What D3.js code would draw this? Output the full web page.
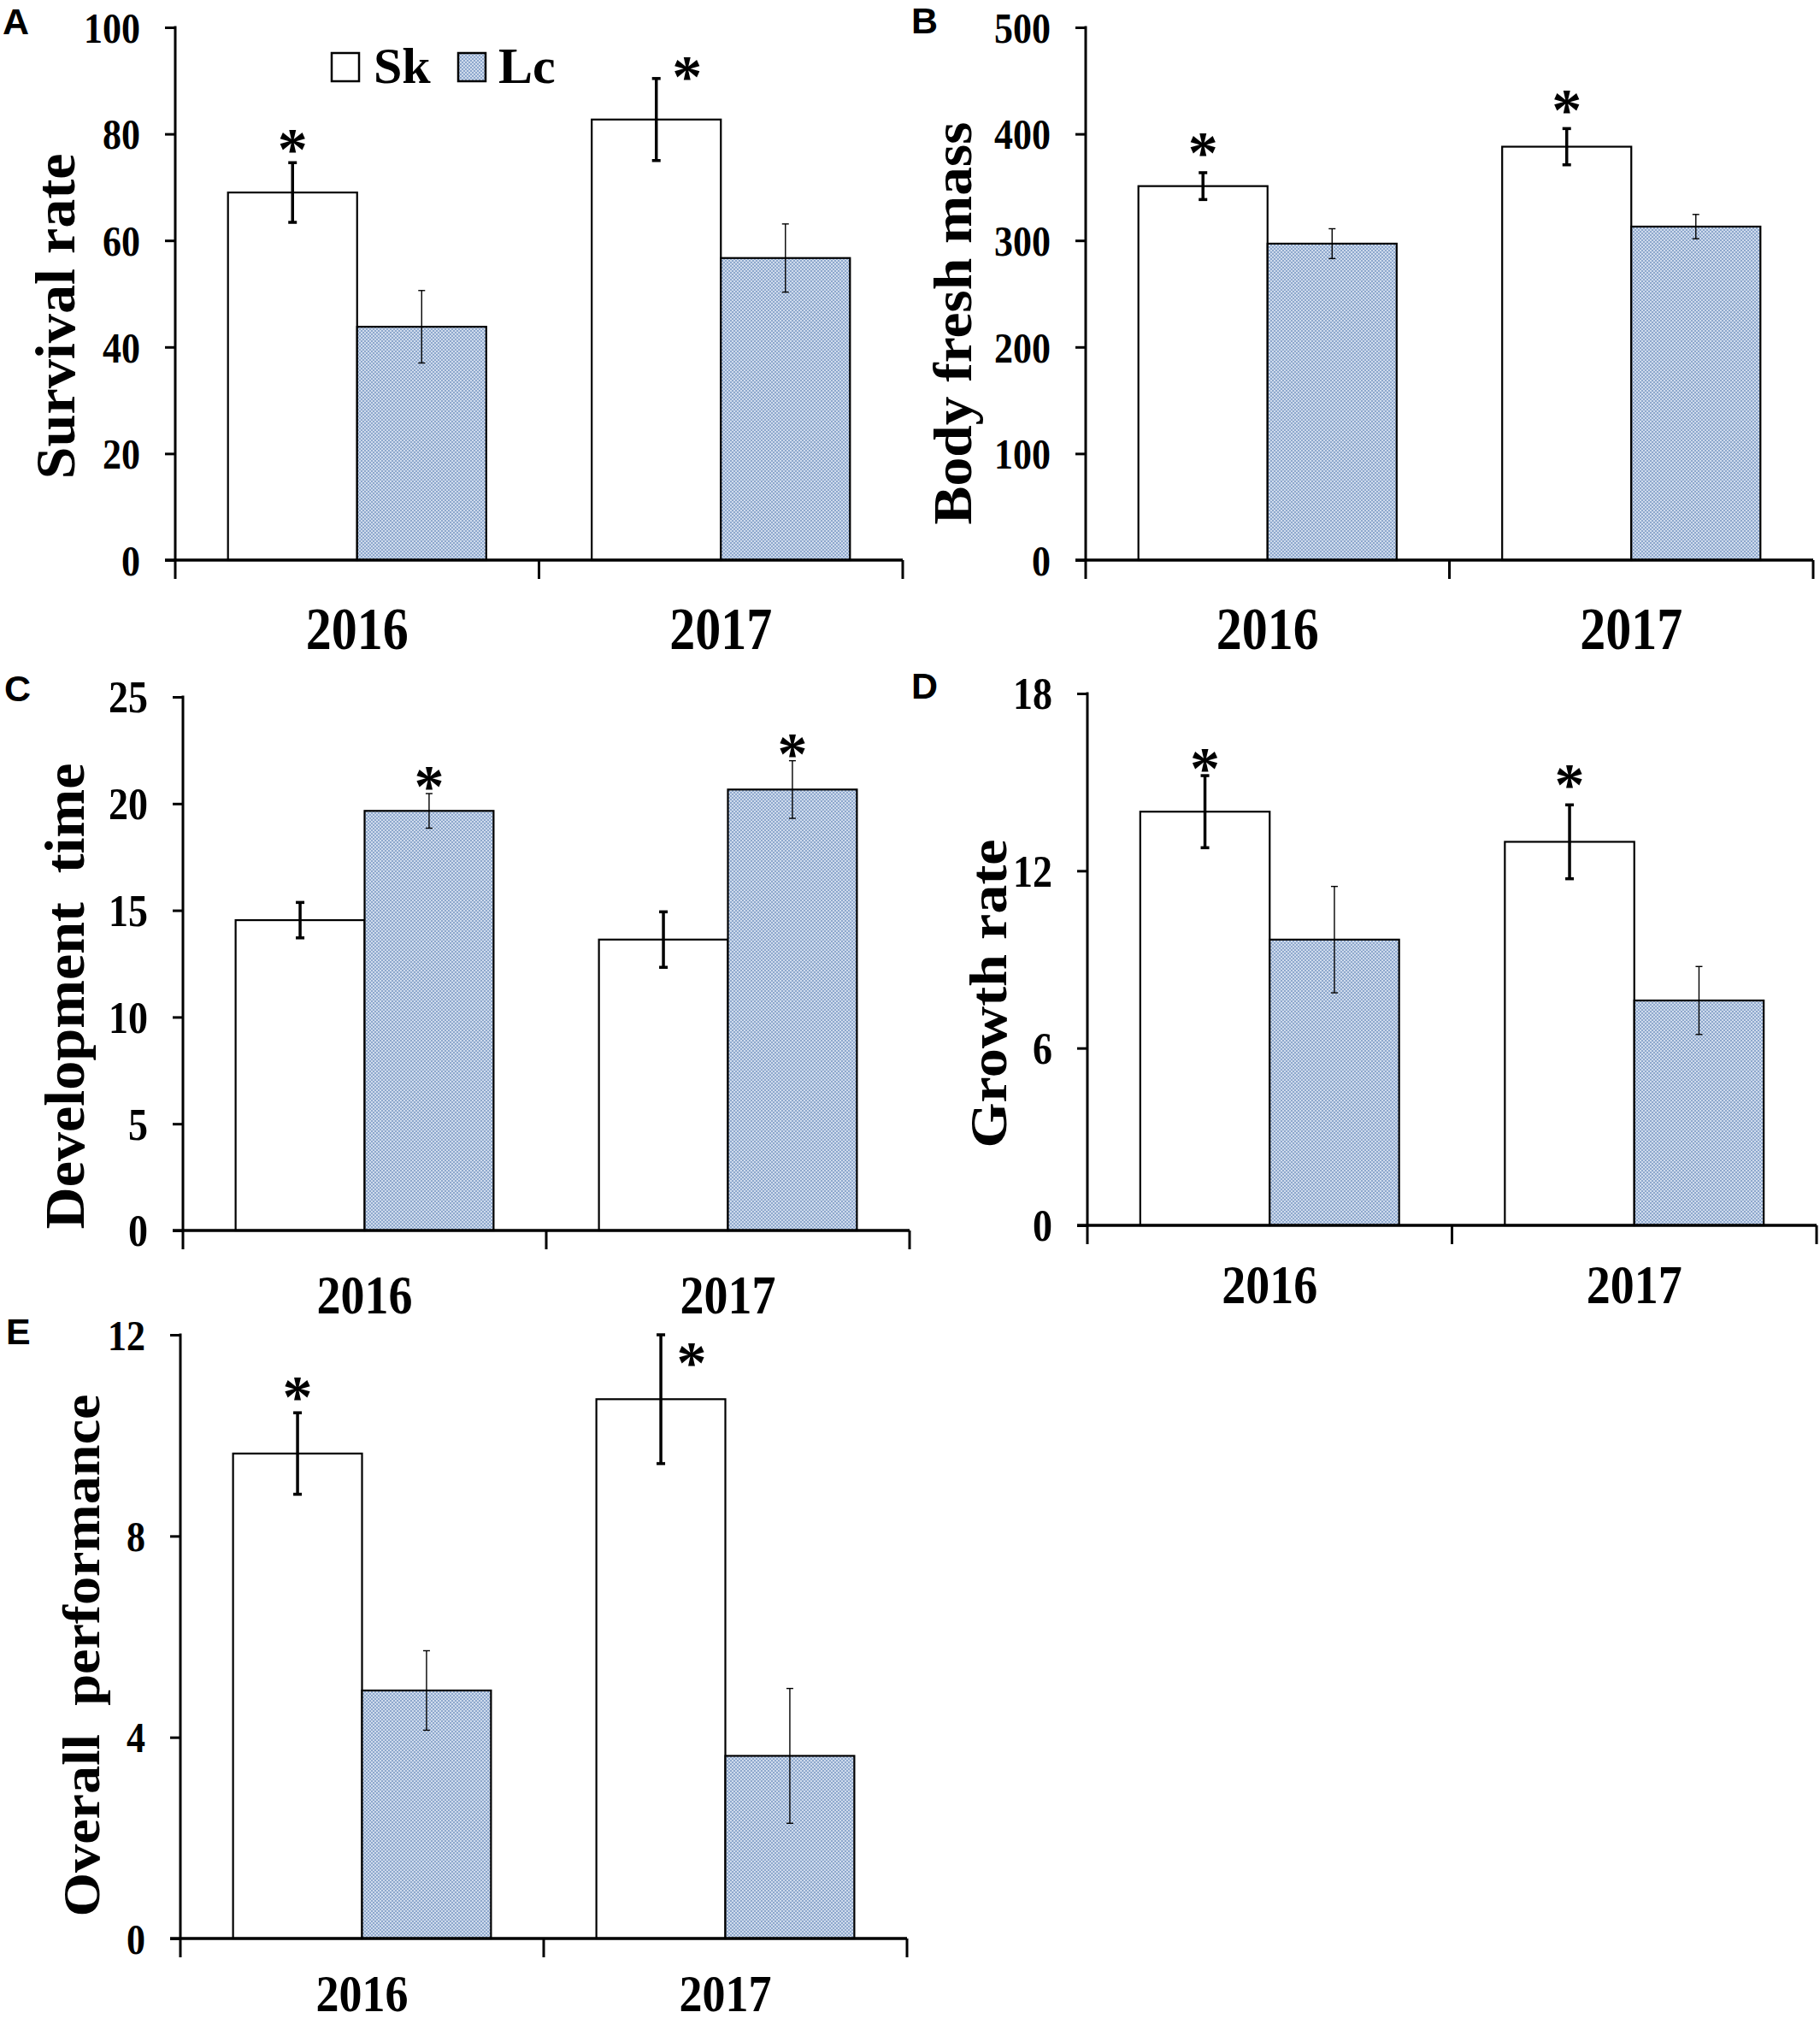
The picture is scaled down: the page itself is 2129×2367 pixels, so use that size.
<!DOCTYPE html>
<html>
<head>
<meta charset="utf-8">
<script src="https://cdn.jsdelivr.net/npm/d3@7.9.0/dist/d3.min.js"></script>
<style>
  html, body { margin: 0; padding: 0; background: #fff; }
  svg { display: block; }
  .serif { font-family: "Liberation Serif", "Times New Roman", serif; font-weight: bold; }
  .sans { font-family: "Liberation Sans", Arial, sans-serif; font-weight: bold; }
</style>
</head>
<body>
<svg id="chart" width="2129" height="2367"></svg>
<script>
// categories
const years = ['2016', '2017'];
const groups = ['Sk', 'Lc'];

// A: survival rate
const survivalSk = [69.0, 82.7];
const survivalSkErr = [5.6, 7.7];
const survivalLc = [43.8, 56.7];
const survivalLcErr = [6.8, 6.4];
const survivalTicks = [0, 20, 40, 60, 80, 100];
const survivalStars = [['2016', 'Sk', 78.6], ['2017', 'Sk', 92.3]];

// B: body fresh mass
const massSk = [351, 388];
const massSkErr = [12.6, 17];
const massLc = [297, 313];
const massLcErr = [14, 11.4];
const massTicks = [0, 100, 200, 300, 400, 500];
const massStars = [['2016', 'Sk', 390], ['2017', 'Sk', 430]];

// C: development time
const devSk = [14.54, 13.63];
const devSkErr = [0.83, 1.3];
const devLc = [19.66, 20.66];
const devLcErr = [0.81, 1.35];
const devTicks = [0, 5, 10, 15, 20, 25];
const devStars = [['2016', 'Lc', 21.2], ['2017', 'Lc', 22.7]];

// D: growth rate
const growthSk = [14.0, 12.98];
const growthSkErr = [1.22, 1.25];
const growthLc = [9.67, 7.61];
const growthLcErr = [1.8, 1.15];
const growthTicks = [0, 6, 12, 18];
const growthStars = [['2016', 'Sk', 15.74], ['2017', 'Sk', 15.19]];

// E: overall performance
const perfSk = [9.64, 10.72];
const perfSkErr = [0.81, 1.28];
const perfLc = [4.93, 3.63];
const perfLcErr = [0.79, 1.34];
const perfTicks = [0, 4, 8, 12];
const perfStars = [['2016', 'Sk', 10.93], ['2017', 'Sk', 11.6]];

const svg = d3.select('#chart');
const defs = svg.append('defs');
const pat = defs.append('pattern').attr('id', 'lcfill')
  .attr('width', 4).attr('height', 4).attr('patternUnits', 'userSpaceOnUse');
pat.append('rect').attr('width', 4).attr('height', 4).attr('fill', '#cfdbec');
pat.append('rect').attr('x', 0).attr('y', 0).attr('width', 2).attr('height', 2).attr('fill', '#8ea8cd');
pat.append('rect').attr('x', 2).attr('y', 2).attr('width', 2).attr('height', 2).attr('fill', '#8ea8cd');

const fills = { Sk: '#fff', Lc: 'url(#lcfill)' };
const errStyle = { Sk: { w: 3.5, cap: 5 }, Lc: { w: 1.4, cap: 4 } };
const stretch = 1.15; // the figure's lettering is a little taller than plain Times

// layout of each panel (pixels)
const panels = [
  { tag: 'A', tagX: 3, tagY: 40, title: 'Survival rate', sk: survivalSk, skErr: survivalSkErr, lc: survivalLc, lcErr: survivalLcErr,
    ticks: survivalTicks, stars: survivalStars, x0: 205, x1: 1056, yBot: 655, yTop: 32,
    tickFont: 44, yearFont: 60, yearY: 759, titleX: 87, titleY: 370, titleLen: 381, titleFont: 66 },
  { tag: 'B', tagX: 1066, tagY: 39, title: 'Body fresh mass', sk: massSk, skErr: massSkErr, lc: massLc, lcErr: massLcErr,
    ticks: massTicks, stars: massStars, x0: 1270, x1: 2121, yBot: 655, yTop: 32,
    tickFont: 44, yearFont: 60, yearY: 759, titleX: 1136, titleY: 378, titleLen: 471, titleFont: 64 },
  { tag: 'C', tagX: 5, tagY: 820, title: 'Development  time', sk: devSk, skErr: devSkErr, lc: devLc, lcErr: devLcErr,
    ticks: devTicks, stars: devStars, x0: 214, x1: 1064, yBot: 1439, yTop: 815,
    tickFont: 46, yearFont: 56, yearY: 1536, titleX: 98, titleY: 1165, titleLen: 545, titleFont: 66 },
  { tag: 'D', tagX: 1066, tagY: 817, title: 'Growth rate', sk: growthSk, skErr: growthSkErr, lc: growthLc, lcErr: growthLcErr,
    ticks: growthTicks, stars: growthStars, x0: 1272, x1: 2125, yBot: 1433, yTop: 811,
    tickFont: 46, yearFont: 56, yearY: 1524, titleX: 1177, titleY: 1162, titleLen: 361, titleFont: 62 },
  { tag: 'E', tagX: 7, tagY: 1572, title: 'Overall  performance', sk: perfSk, skErr: perfSkErr, lc: perfLc, lcErr: perfLcErr,
    ticks: perfTicks, stars: perfStars, x0: 211, x1: 1061, yBot: 2267, yTop: 1561,
    tickFont: 44, yearFont: 54, yearY: 2352, titleX: 116, titleY: 1936, titleLen: 611, titleFont: 62 }
];

panels.forEach(drawPanel);

function drawPanel(p) {
  const g = svg.append('g');
  const x = d3.scaleBand().domain(years).range([p.x0, p.x1]).paddingInner(0).paddingOuter(0);
  const pad = x.bandwidth() * 0.145;
  const xs = d3.scaleBand().domain(groups).range([pad, x.bandwidth() - pad]).padding(0);
  const y = d3.scaleLinear().domain([0, d3.max(p.ticks)]).range([p.yBot, p.yTop]);

  const rows = [];
  years.forEach((yr, i) => {
    rows.push({ year: yr, group: 'Sk', v: p.sk[i], e: p.skErr[i] });
    rows.push({ year: yr, group: 'Lc', v: p.lc[i], e: p.lcErr[i] });
  });

  // bars
  g.selectAll('rect.bar').data(rows).enter().append('rect')
    .attr('class', 'bar')
    .attr('x', d => x(d.year) + xs(d.group))
    .attr('y', d => y(d.v))
    .attr('width', xs.bandwidth())
    .attr('height', d => y(0) - y(d.v))
    .attr('fill', d => fills[d.group])
    .attr('stroke', '#000')
    .attr('stroke-width', 2.2);

  // error bars
  const eb = g.selectAll('g.err').data(rows).enter().append('g').attr('class', 'err')
    .attr('stroke', '#000')
    .attr('stroke-width', d => errStyle[d.group].w);
  const cx = d => x(d.year) + xs(d.group) + xs.bandwidth() / 2;
  eb.append('line').attr('x1', cx).attr('x2', cx)
    .attr('y1', d => y(d.v + d.e)).attr('y2', d => y(d.v - d.e));
  eb.append('line').attr('x1', d => cx(d) - errStyle[d.group].cap).attr('x2', d => cx(d) + errStyle[d.group].cap)
    .attr('y1', d => y(d.v + d.e)).attr('y2', d => y(d.v + d.e));
  eb.append('line').attr('x1', d => cx(d) - errStyle[d.group].cap).attr('x2', d => cx(d) + errStyle[d.group].cap)
    .attr('y1', d => y(d.v - d.e)).attr('y2', d => y(d.v - d.e));

  // stars: shift right of the error bar when they would sit on it
  const starFont = 70;
  g.selectAll('text.star').data(p.stars).enter().append('text')
    .attr('class', 'serif')
    .attr('font-weight', 'normal')
    .attr('font-size', starFont)
    .attr('text-anchor', 'middle')
    .attr('x', d => {
      const r = rows.find(r => r.year === d[0] && r.group === d[1]);
      const gap = y(r.v + r.e) - y(d[2]);
      return cx(r) + (gap < 16 ? 36 : 0);
    })
    .attr('y', d => y(d[2]) + starFont * 0.47)
    .text('*');

  // y axis
  const yAxis = d3.axisLeft(y).tickValues(p.ticks).tickSize(12).tickPadding(29).tickFormat(d3.format('d'));
  const ya = g.append('g').attr('transform', `translate(${p.x0},0)`).call(yAxis);
  ya.select('.domain').remove();
  ya.selectAll('.tick line').attr('stroke', '#000').attr('stroke-width', 3);
  ya.selectAll('.tick text').attr('class', 'serif').attr('font-size', p.tickFont).attr('fill', '#000')
    .attr('dy', '0.34em').attr('transform', `scale(1,${stretch})`);

  // axis lines
  g.append('line').attr('x1', p.x0).attr('x2', p.x0).attr('y1', p.yTop - 1.5).attr('y2', p.yBot + 22)
    .attr('stroke', '#000').attr('stroke-width', 3);
  g.append('line').attr('x1', p.x0 - 12).attr('x2', p.x1).attr('y1', p.yBot).attr('y2', p.yBot)
    .attr('stroke', '#000').attr('stroke-width', 3.5);
  const bounds = years.map(yr => x(yr)).concat([x.range()[1]]);
  g.selectAll('line.xt').data(bounds.slice(1)).enter().append('line')
    .attr('x1', d => d).attr('x2', d => d).attr('y1', p.yBot).attr('y2', p.yBot + 22)
    .attr('stroke', '#000').attr('stroke-width', 3);

  // x labels
  const xAxis = d3.axisBottom(x).tickSize(0).tickPadding(0);
  const xa = g.append('g').attr('transform', `translate(0,${p.yearY})`).call(xAxis);
  xa.select('.domain').remove();
  xa.selectAll('.tick text').attr('class', 'serif').attr('font-size', p.yearFont).attr('fill', '#000')
    .attr('y', 0).attr('dy', 0).attr('transform', `scale(1,${stretch})`);

  // y title
  g.append('text').attr('class', 'serif')
    .attr('font-size', p.titleFont)
    .attr('text-anchor', 'middle')
    .attr('transform', `translate(${p.titleX},${p.titleY}) rotate(-90)`)
    .attr('textLength', p.titleLen)
    .attr('lengthAdjust', 'spacingAndGlyphs')
    .style('white-space', 'pre')
    .text(p.title);

  // panel tag
  g.append('text').attr('class', 'sans').attr('font-size', 43)
    .attr('x', p.tagX).attr('y', p.tagY).text(p.tag);

  // legend in panel A
  if (p.tag === 'A') {
    const leg = g.append('g');
    const items = [{ k: 'Sk', bx: 388, tx: 437 }, { k: 'Lc', bx: 536, tx: 583 }];
    leg.selectAll('rect').data(items).enter().append('rect')
      .attr('x', d => d.bx).attr('y', 62).attr('width', 32).attr('height', 33)
      .attr('fill', d => fills[d.k]).attr('stroke', '#000').attr('stroke-width', 2.5);
    leg.selectAll('text').data(items).enter().append('text')
      .attr('class', 'serif').attr('font-size', 60)
      .attr('x', d => d.tx).attr('y', 97).text(d => d.k);
  }
}
</script>
</body>
</html>
